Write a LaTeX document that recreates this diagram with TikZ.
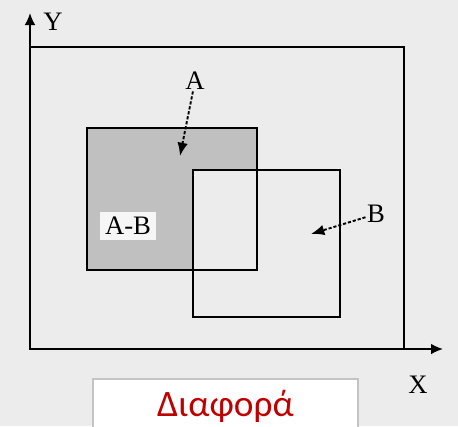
\documentclass[tikz,border=0pt]{standalone}
\usepackage{fontspec}
\setmainfont{Liberation Serif}
\newfontfamily\captionfont{Carlito}
\usetikzlibrary{positioning,calc,arrows.meta}
\definecolor{pagebg}{RGB}{236,236,236}
\definecolor{setagray}{RGB}{192,192,192}
\definecolor{abbg}{RGB}{246,246,246}
\definecolor{captionred}{RGB}{192,0,0}
\definecolor{captionframe}{RGB}{196,196,196}

\begin{document}
\begin{tikzpicture}[x=0.75pt,y=-0.75pt,
    setline/.style={draw=black, line width=1.6pt},
    axisline/.style={black, line width=1.2pt, -{Latex[length=9pt,width=8pt]}},
    pointer/.style={black, line width=1.4pt, dash pattern=on 2.4pt off 1.4pt,
                    -{Latex[length=10pt,width=8pt]}},
    setlabel/.style={font=\fontsize{20}{22}\selectfont, inner sep=1pt}]
  \useasboundingbox[fill=pagebg] (0,0) rectangle (458,426);
  % universe and axes
  \coordinate (origin) at (30,349);
  \coordinate (ytip) at (30,13);
  \coordinate (xtip) at (443,349);
  \draw[setline] (30,47) rectangle (404,349);
  \draw[axisline] (origin) -- (ytip);
  \draw[axisline] (origin) -- (xtip);
  \node[setlabel] (laby) at (53,22) {Y};
  \node[setlabel] (labx) at (418,385) {X};
  % the two sets
  \fill[setagray] (87,128) rectangle (257,270);
  \fill[pagebg] (193,170) rectangle (340,317);
  \draw[setline] (87,128) rectangle (257,270);
  \draw[setline] (193,170) rectangle (340,317);
  \node[setlabel, fill=abbg, inner sep=3.5pt] (labab) at (128,226) {A-B};
  % pointers
  \node[setlabel] (laba) at (195,81) {A};
  \node[setlabel] (labb) at (376,214) {B};
  \coordinate (tipa) at (180,156);
  \coordinate (tipb) at (311,234);
  \draw[pointer] (laba) -- (tipa);
  \draw[pointer] (labb) -- (tipb);
  % caption
  \node[draw=captionframe, line width=1.2pt, fill=white, anchor=north,
        minimum width=199pt, minimum height=41pt, text=captionred,
        font=\captionfont\fontsize{28}{30}\selectfont] (caption) at (225.5,378) {Διαφορά};
\end{tikzpicture}
\end{document}
